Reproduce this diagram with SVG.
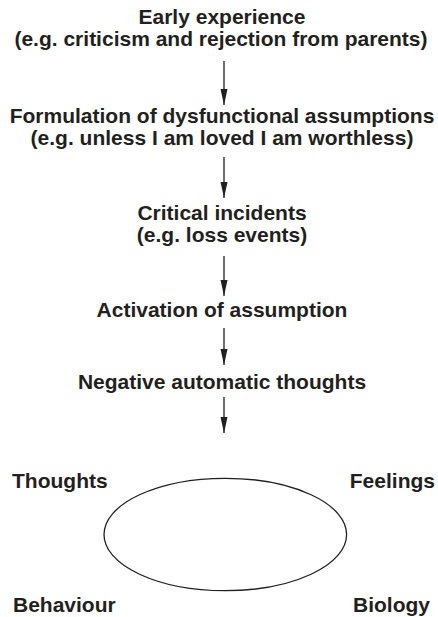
<svg xmlns="http://www.w3.org/2000/svg" width="438" height="617" viewBox="0 0 438 617">
<style>
text{font-family:"Liberation Sans",Arial,Helvetica,sans-serif;font-weight:bold;font-size:21px;fill:#231f20}
.c{text-anchor:middle}
.conn line{stroke:#231f20;stroke-width:1.3}
</style>
<defs>
<marker id="a" viewBox="0 0 16 8" refX="16" refY="4" markerWidth="16" markerHeight="8" markerUnits="userSpaceOnUse" orient="auto">
<path d="M0,0.5 L16,4 L0,7.5 Z" fill="#231f20"/>
</marker>
</defs>
<rect width="438" height="617" fill="#fff"/>
<g id="early"><text class="c" x="222" y="24">Early experience</text><text class="c" x="221" y="46">(e.g. criticism and rejection from parents)</text></g>
<g id="formulation"><text class="c" x="222" y="123">Formulation of dysfunctional assumptions</text><text class="c" x="222" y="145">(e.g. unless I am loved I am worthless)</text></g>
<g id="critical"><text class="c" x="222" y="220">Critical incidents</text><text class="c" x="222" y="242">(e.g. loss events)</text></g>
<g id="activation"><text class="c" x="222" y="317">Activation of assumption</text></g>
<g id="nat"><text class="c" x="222" y="389">Negative automatic thoughts</text></g>
<g id="cycle">
<ellipse cx="225.3" cy="534.5" rx="121.3" ry="56.2" fill="none" stroke="#231f20" stroke-width="1.3"/>
<text x="12" y="488">Thoughts</text>
<text x="435" y="488" text-anchor="end">Feelings</text>
<text x="13" y="612">Behaviour</text>
<text x="430" y="612" text-anchor="end">Biology</text>
</g>
<g class="conn" id="connectors">
<line x1="224" y1="61" x2="224" y2="105" marker-end="url(#a)"/>
<line x1="224" y1="157" x2="224" y2="198" marker-end="url(#a)"/>
<line x1="224" y1="256" x2="224" y2="296" marker-end="url(#a)"/>
<line x1="224" y1="328" x2="224" y2="365" marker-end="url(#a)"/>
<line x1="224" y1="397" x2="224" y2="433" marker-end="url(#a)"/>
</g>
</svg>
